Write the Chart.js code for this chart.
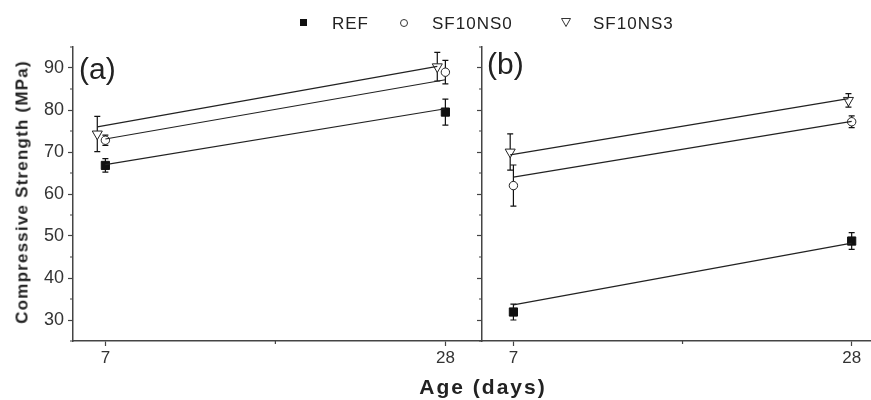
<!DOCTYPE html>
<html><head><meta charset="utf-8">
<script src="https://cdn.jsdelivr.net/npm/chart.js@4"></script>
<style>
body{margin:0;background:#fff;width:871px;height:400px;overflow:hidden;position:relative;font-family:"Liberation Sans",Arial,sans-serif;}
canvas{position:absolute;top:0}
#ca{left:0px}
#cb{left:470px}
.t{position:absolute;color:#222;white-space:nowrap;line-height:1}
</style></head>
<body>
<canvas id="ca" width="482" height="400"></canvas>
<canvas id="cb" width="401" height="400"></canvas>

<div class="t" style="left:300px;top:19px;width:7px;height:7px;background:#111"></div>
<div class="t" style="left:332px;top:15px;font-size:17px;letter-spacing:1px">REF</div>
<div class="t" style="left:400px;top:19px;width:6px;height:6px;border:1px solid #333;border-radius:50%"></div>
<div class="t" style="left:432px;top:15px;font-size:17px;letter-spacing:1px">SF10NS0</div>
<svg class="t" style="left:561px;top:18px" width="10" height="9"><polygon points="0.5,0.5 9.5,0.5 5,8.5" fill="#fff" stroke="#333" stroke-width="1"/></svg>
<div class="t" style="left:593px;top:15px;font-size:17px;letter-spacing:1px">SF10NS3</div>

<div class="t" style="left:79px;top:54px;font-size:30px">(a)</div>
<div class="t" style="left:487px;top:49px;font-size:30px">(b)</div>

<div class="t" style="left:22px;top:192px;font-size:17px;font-weight:bold;letter-spacing:1.2px;transform:translate(-50%,-50%) rotate(-90deg)">Compressive Strength (MPa)</div>
<div class="t" style="left:483px;top:386px;font-size:21px;font-weight:bold;letter-spacing:2px;transform:translate(-50%,-50%)">Age (days)</div>

<script>
// ---- data ----
const ages = [7, 28];
const xMinorTicks = [17.5];
const yMajorTicks = [30, 40, 50, 60, 70, 80, 90];
const yMinorTicks = [25, 35, 45, 55, 65, 75, 85, 95];
const seriesNames = ['REF', 'SF10NS0', 'SF10NS3'];

// panel (a)
const refA = [66.8, 79.5];
const refAErr = [1.6, 3.1];
const ns0A = [72.8, 89.0];
const ns0AErr = [1.2, 2.8];
const ns3A = [74.3, 90.3];
const ns3AErr = [4.2, 3.4];
const ns3AgesA = [6.5, 27.5];
const refAFit = [67.0, 80.3];
const ns0AFit = [73.1, 87.2];
const ns3AFit = [76.0, 90.4];

// panel (b)
const refB = [31.9, 48.8];
const refBErr = [1.9, 2.0];
const ns0B = [62.0, 77.2];
const ns0BErr = [4.9, 1.4];
const ns3B = [70.0, 82.3];
const ns3BErr = [4.3, 1.6];
const ns3AgesB = [6.8, 27.8];
const refBFit = [33.6, 48.3];
const ns0BFit = [64.0, 77.3];
const ns3BFit = [69.3, 82.7];

const AX = '#444';
const pts = (xs, ys) => xs.map((x, i) => ({x: x, y: ys[i]}));

const errorBars = {
  id: 'errorBars',
  beforeDatasetsDraw(chart) {
    const c = chart.ctx, xs = chart.scales.x, ys = chart.scales.y;
    c.save();
    c.strokeStyle = '#111'; c.lineWidth = 1.2;
    chart.data.datasets.forEach(ds => {
      if (!ds.errors) return;
      ds.data.forEach((p, i) => {
        const e = ds.errors[i];
        const px = xs.getPixelForValue(p.x);
        const top = ys.getPixelForValue(p.y + e), bot = ys.getPixelForValue(p.y - e);
        c.beginPath();
        c.moveTo(px, top); c.lineTo(px, bot);
        c.moveTo(px - 3, top); c.lineTo(px + 3, top);
        c.moveTo(px - 3, bot); c.lineTo(px + 3, bot);
        c.stroke();
      });
    });
    c.restore();
  }
};

const minorTicks = {
  id: 'minorTicks',
  afterDraw(chart) {
    const c = chart.ctx, xs = chart.scales.x, ys = chart.scales.y, a = chart.chartArea;
    c.save();
    c.strokeStyle = AX; c.lineWidth = 1.2;
    c.beginPath();
    xMinorTicks.forEach(v => { const px = xs.getPixelForValue(v); c.moveTo(px, a.bottom); c.lineTo(px, a.bottom + 3); });
    yMinorTicks.forEach(v => { const py = ys.getPixelForValue(v); c.moveTo(a.left, py); c.lineTo(a.left - 3, py); });
    c.stroke();
    c.restore();
  }
};

function makeDatasets(ref, refErr, ns0, ns0Err, ns3, ns3Err, ns3Ages, refFit, ns0Fit, ns3Fit) {
  const fit = (d) => ({type: 'line', data: d, borderColor: '#222', borderWidth: 1.2, pointRadius: 0, fill: false, showLine: true});
  return [
    fit(pts(ns3Ages, ns3Fit)),
    fit(pts(ages, ns0Fit)),
    fit(pts(ages, refFit)),
    {label: seriesNames[0], data: pts(ages, ref), errors: refErr, pointStyle: 'rect', pointRadius: 5.8,
      backgroundColor: '#111', borderColor: '#111', borderWidth: 1},
    {label: seriesNames[1], data: pts(ages, ns0), errors: ns0Err, pointStyle: 'circle', pointRadius: 4.2,
      backgroundColor: '#fff', borderColor: '#222', borderWidth: 1},
    {label: seriesNames[2], data: pts(ns3Ages, ns3), errors: ns3Err, pointStyle: 'triangle', rotation: 180, pointRadius: 5.8,
      backgroundColor: '#fff', borderColor: '#222', borderWidth: 1}
  ];
}

function makeChart(id, datasets, xmin, xmax, showY, yWidth, padRight) {
  return new Chart(document.getElementById(id), {
    type: 'scatter',
    data: {datasets: datasets},
    plugins: [errorBars, minorTicks],
    options: {
      responsive: false, animation: false, events: [],
      layout: {autoPadding: false, padding: {top: 47, left: 0, right: padRight, bottom: 0}},
      plugins: {legend: {display: false}, tooltip: {enabled: false}},
      scales: {
        x: {
          type: 'linear', min: xmin, max: xmax,
          afterFit: s => { s.height = 59; s.paddingLeft = 0; s.paddingRight = 0; },
          afterBuildTicks: s => { s.ticks = ages.map(v => ({value: v})); },
          border: {color: AX, width: 1.5},
          grid: {drawOnChartArea: false, drawTicks: true, tickLength: 5, color: AX, tickWidth: 1.2},
          ticks: {color: '#333', font: {size: 17, family: '"Liberation Sans", Arial, sans-serif'}, padding: 2, maxRotation: 0,
            callback: v => String(v)}
        },
        y: {
          type: 'linear', min: 25, max: 95,
          afterFit: s => { s.width = yWidth; s.paddingTop = 0; s.paddingBottom = 0; },
          afterBuildTicks: s => { s.ticks = yMajorTicks.map(v => ({value: v})); },
          border: {color: AX, width: 1.5},
          grid: {drawOnChartArea: false, drawTicks: true, tickLength: 5, color: AX, tickWidth: 1.2},
          ticks: {display: showY, color: '#333', font: {size: 18, family: '"Liberation Sans", Arial, sans-serif'}, padding: 4}
        }
      }
    }
  });
}

makeChart('ca', makeDatasets(refA, refAErr, ns0A, ns0AErr, ns3A, ns3AErr, ns3AgesA, refAFit, ns0AFit, ns3AFit), 5.0, 30.2, true, 73, 1);
makeChart('cb', makeDatasets(refB, refBErr, ns0B, ns0BErr, ns3B, ns3BErr, ns3AgesB, refBFit, ns0BFit, ns3BFit), 5.05, 29.2, false, 12, 0);
</script>
</body></html>
